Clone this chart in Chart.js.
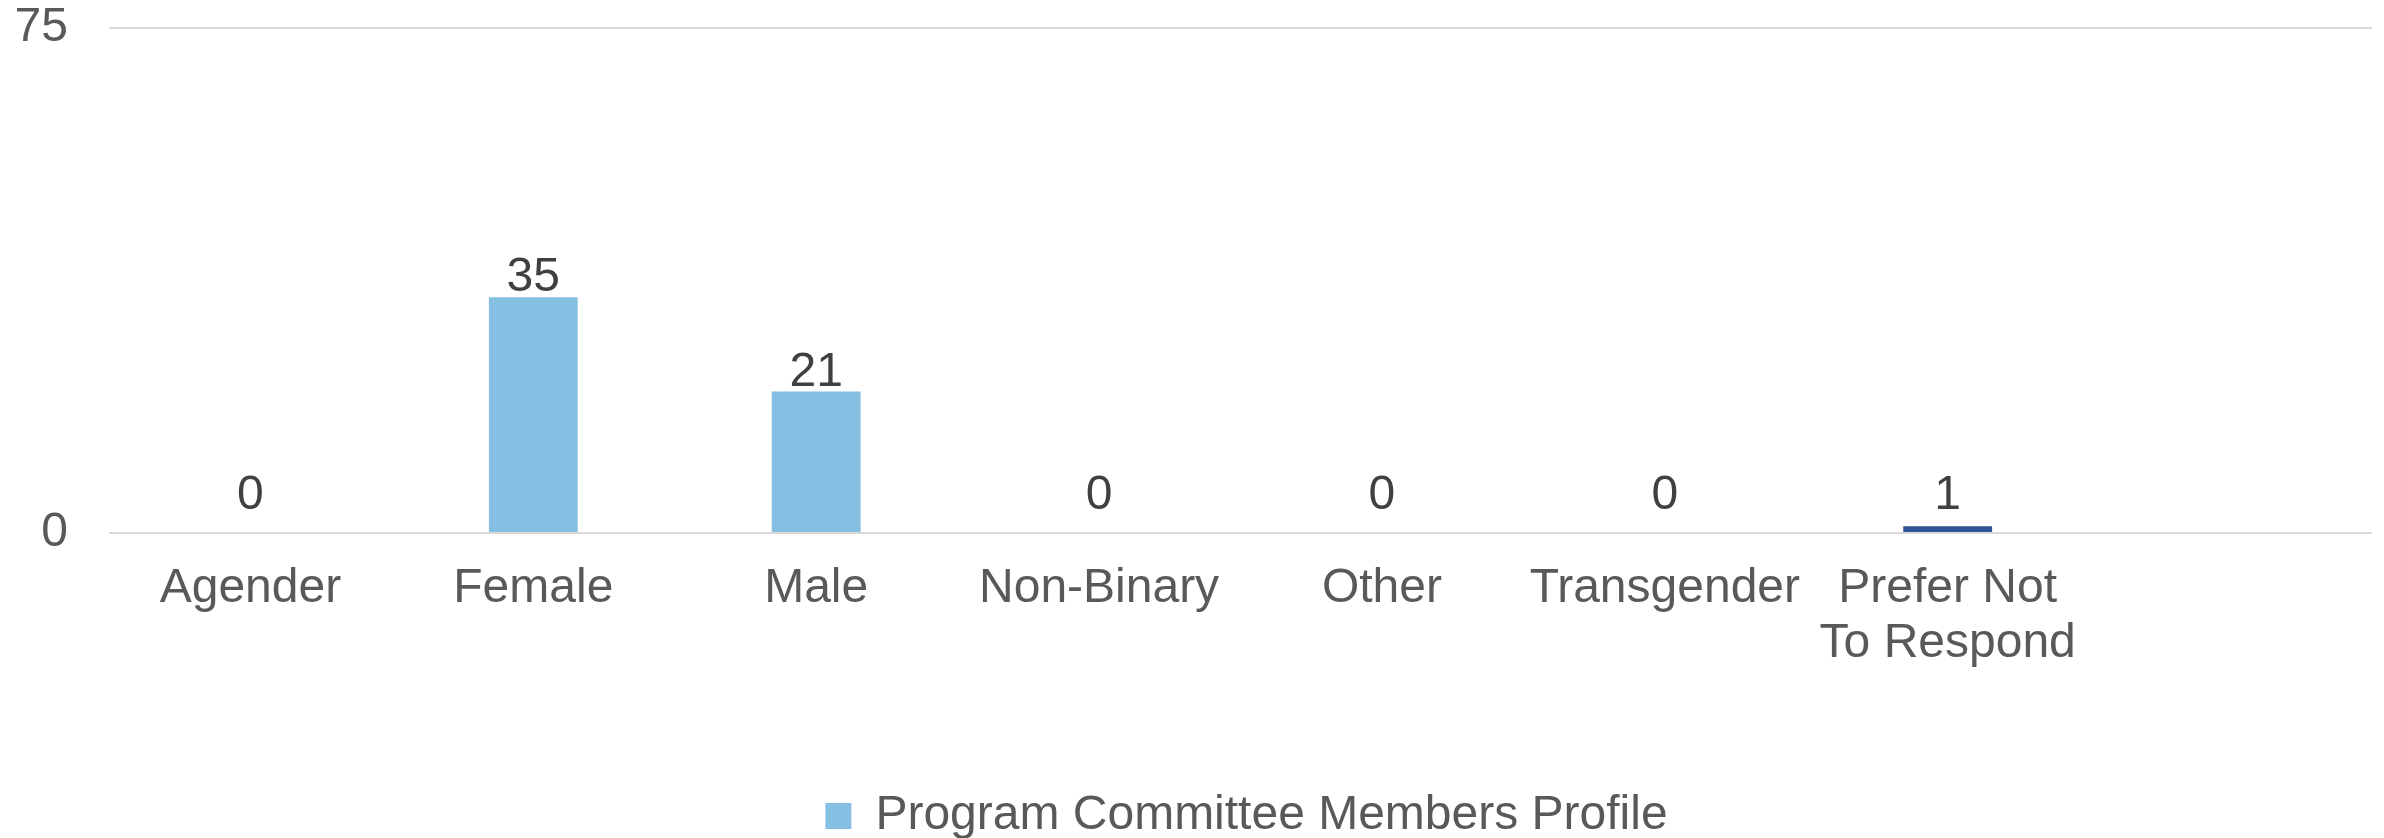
<!DOCTYPE html>
<html>
<head>
<meta charset="utf-8">
<script src="https://cdn.jsdelivr.net/npm/chart.js@4/dist/chart.umd.min.js"></script>
<style>
  html, body { margin: 0; padding: 0; background: #fff; }
  #wrap { width: 2384px; height: 838px; }
</style>
</head>
<body>
<div id="wrap"><canvas id="genderChart" width="2384" height="838"></canvas></div>
<script>
const categories = ['Agender', 'Female', 'Male', 'Non-Binary', 'Other', 'Transgender', ['Prefer Not', 'To Respond'], ''];
const memberCounts = [0, 35, 21, 0, 0, 0, 1, null];
const yTicks = [0, 75];
const seriesName = 'Program Committee Members Profile';

const barColors = ['#85C0E3', '#85C0E3', '#85C0E3', '#85C0E3', '#85C0E3', '#85C0E3', '#2E5496', '#85C0E3'];
const font = '"Liberation Sans", Arial, sans-serif';

// value labels above each bar
const valueLabels = {
    id: 'valueLabels',
    afterDatasetsDraw(chart) {
        const ctx = chart.ctx;
        const meta = chart.getDatasetMeta(0);
        const base = chart.scales.y.getPixelForValue(0);
        ctx.save();
        ctx.font = '48px ' + font;
        ctx.fillStyle = '#404040';
        ctx.textAlign = 'center';
        ctx.textBaseline = 'alphabetic';
        meta.data.forEach((bar, i) => {
            const v = memberCounts[i];
            if (v === null) return;
            const y = Math.min(bar.y - 6, base - 24);
            ctx.fillText(String(v), bar.x, y);
        });
        ctx.restore();
    }
};

// center the legend under the plot area and nudge it down, like the original
const legendUnderPlot = {
    id: 'legendUnderPlot',
    afterLayout(chart) {
        const lg = chart.legend;
        if (!lg) return;
        lg.left = chart.chartArea.left + 6;
        lg.right = chart.chartArea.right + 6;
        lg.top += 12;
        lg.bottom += 12;
    }
};

new Chart(document.getElementById('genderChart').getContext('2d'), {
    type: 'bar',
    data: {
        labels: categories,
        datasets: [{
            label: seriesName,
            data: memberCounts,
            backgroundColor: barColors,
            categoryPercentage: 1,
            barPercentage: 0.314
        }]
    },
    options: {
        responsive: false,
        animation: false,
        layout: { padding: { top: 28, right: 12, left: 0, bottom: 0 } },
        scales: {
            x: {
                grid: { display: false },
                border: { display: false },
                ticks: {
                    color: '#595959',
                    font: { family: font, size: 48, lineHeight: 1.15 },
                    padding: 20,
                    maxRotation: 0,
                    autoSkip: false
                },
                afterFit: s => { s.height = 247; s.paddingLeft = 0; s.paddingRight = 0; }
            },
            y: {
                min: 0,
                max: 75,
                afterBuildTicks: s => { s.ticks = yTicks.map(v => ({ value: v })); },
                grid: { color: '#D9D9D9', lineWidth: 2, drawTicks: false },
                border: { display: false },
                ticks: {
                    color: '#595959',
                    font: { family: font, size: 48 },
                    padding: 41
                },
                afterFit: s => { s.width = 109; s.paddingTop = 0; s.paddingBottom = 0; }
            }
        },
        plugins: {
            legend: {
                position: 'bottom',
                labels: {
                    color: '#595959',
                    font: { family: font, size: 48 },
                    boxWidth: 26,
                    boxHeight: 26,
                    padding: 0,
                    generateLabels: () => [{
                        text: seriesName,
                        fillStyle: '#85C0E3',
                        strokeStyle: '#85C0E3',
                        fontColor: '#595959',
                        lineWidth: 0,
                        datasetIndex: 0
                    }]
                }
            },
            tooltip: { enabled: false }
        }
    },
    plugins: [valueLabels, legendUnderPlot]
});
</script>
</body>
</html>
